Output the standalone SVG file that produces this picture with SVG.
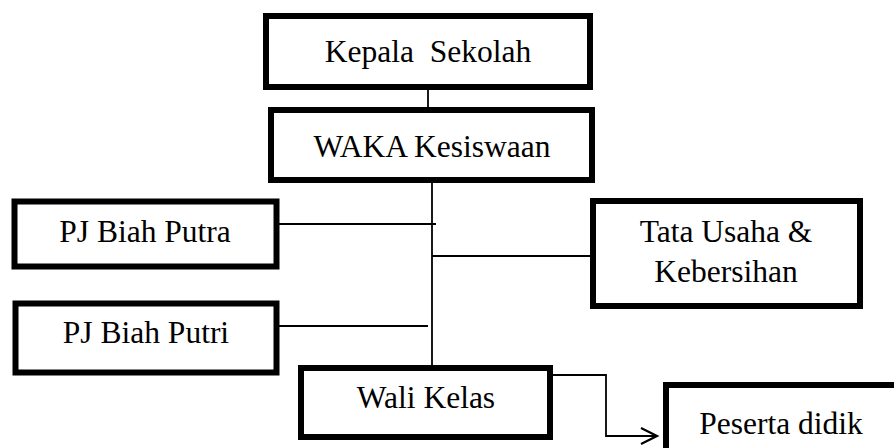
<svg xmlns="http://www.w3.org/2000/svg" width="894" height="448" viewBox="0 0 894 448">
<defs>
<style>
.box{fill:#fff;stroke:#000;stroke-width:6}
.lbl{font-family:"Liberation Serif","Times New Roman",serif;font-size:31.5px;fill:#000;text-anchor:middle;white-space:pre}
.con{fill:none;stroke:#000;stroke-width:1.8}
</style>
<marker id="arr" markerWidth="20" markerHeight="20" refX="17" refY="9" orient="auto" markerUnits="userSpaceOnUse">
<path d="M1,1 L17,9 L1,17" fill="none" stroke="#000" stroke-width="2.2"/>
</marker>
</defs>
<rect width="894" height="448" fill="#fff"/>
<g id="connectors">
<line class="con" x1="428" y1="89" x2="428" y2="107"/>
<line class="con" x1="432" y1="182" x2="432" y2="366"/>
<line class="con" x1="278" y1="224" x2="436" y2="224"/>
<line class="con" x1="432" y1="256" x2="591" y2="256"/>
<line class="con" x1="273" y1="326" x2="428" y2="326"/>
<polyline class="con" points="552,375 606,375 606,436 657,436" marker-end="url(#arr)"/>
</g>
<g id="kepala">
<rect class="box" x="266" y="16" width="324" height="71"/>
<text class="lbl" x="428" y="62" xml:space="preserve">Kepala  Sekolah</text>
</g>
<g id="waka">
<rect class="box" x="271" y="110" width="321" height="70"/>
<text class="lbl" x="432" y="157">WAKA Kesiswaan</text>
</g>
<g id="pj-putra">
<rect class="box" x="14.5" y="201.5" width="262" height="65"/>
<text class="lbl" x="145" y="242">PJ Biah Putra</text>
</g>
<g id="tata-usaha">
<rect class="box" x="593" y="201" width="267" height="105"/>
<text class="lbl" x="726" y="242">Tata Usaha &amp;</text>
<text class="lbl" x="726" y="282">Kebersihan</text>
</g>
<g id="pj-putri">
<rect class="box" x="15.5" y="303.5" width="261" height="69"/>
<text class="lbl" x="146" y="343">PJ Biah Putri</text>
</g>
<g id="wali-kelas">
<rect class="box" x="301" y="368" width="249" height="69"/>
<text class="lbl" x="426" y="408">Wali Kelas</text>
</g>
<g id="peserta-didik">
<rect class="box" x="666" y="385" width="240" height="80"/>
<text class="lbl" x="781" y="434">Peserta didik</text>
</g>
</svg>
